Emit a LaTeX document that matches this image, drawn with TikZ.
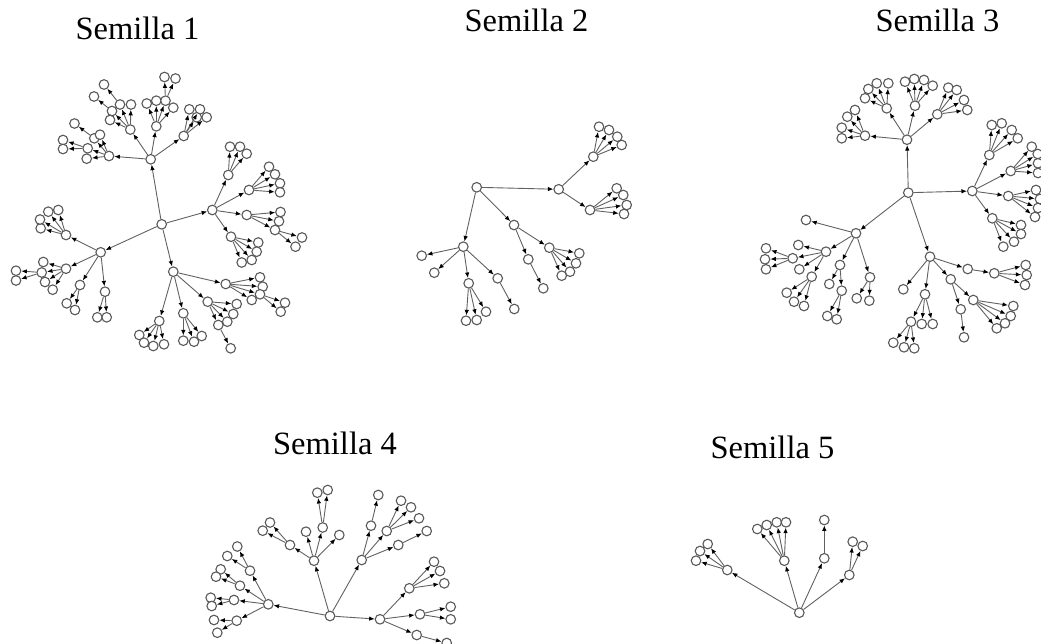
\documentclass[tikz,border=0pt]{standalone}
\usepackage{fontspec}
\setmainfont{Liberation Serif}
\usetikzlibrary{arrows.meta}
\tikzset{
  v/.style={circle,draw=black!65,fill=white,line width=1.1pt,minimum size=9.6pt,inner sep=0pt},
  edge/.style={draw=black!62,line width=0.9pt,-{Latex[length=5.5pt,width=4.5pt,color=black]}},
  lbl/.style={font=\fontsize{32.5}{38}\selectfont,anchor=base,inner sep=0pt}
}
\begin{document}
\begin{tikzpicture}[x=1pt,y=-1pt]
\useasboundingbox (0,0) rectangle (1041,644);
% labels
\node[lbl] (l1) at (137.5,40) {Semilla 1};
\node[lbl] (l2) at (526.5,32) {Semilla 2};
\node[lbl] (l3) at (937.5,32) {Semilla 3};
\node[lbl] (l4) at (335,454) {Semilla 4};
\node[lbl] (l5) at (772.5,458) {Semilla 5};
% ---------- tree 1 ----------
\foreach \n/\x/\y in {ar/161.7/224.3, aA/150.7/159.3, aB/212.3/210, aC/100.7/252.3, aD/173.3/271.7,
 aA1/109/156, aA11/87.7/148.3, aA12/94.3/138.3, aA13/100/134.7, aA14/86.7/158.7, aA111/63/140, aA112/63/149, aA121/74.5/123.5,
 aA2/130.3/129.6, aA21/120/104.5, aA22/131/104.5, aA23/112/111, aA24/110/120, aA211/104/84.5, aA212/94/96.5,
 aA3/156.3/126.3, aA31/146.7/103.5, aA32/156.3/100.7, aA33/165.5/100.7, aA34/173.3/107.7, aA331/164.5/77, aA332/175.5/78.5,
 aA4/183.7/136, aA41/189.3/109.3, aA42/200/109.3, aA43/206.7/117.3, aA44/196.7/117.3,
 aB1/228.3/175, aB2/249/190, aB3/246.7/215, aB4/231/236.7,
 aB11/230/146.7, aB12/240/146.7, aB13/246.7/153.7,
 aB21/269/166.7, aB22/275/174.3, aB23/280/183.3, aB24/280/192.3,
 aB31/280.5/212, aB32/279/221.3, aB33/275/230, aB331/302/237.5, aB332/295.5/246.7,
 aB41/258.3/242.5, aB42/256.7/251.7, aB43/251.7/260, aB44/241.7/262.5,
 aC1/66/235, aC2/66/268.7, aC3/80/285, aC4/105/291.7,
 aC11/40.7/228.3, aC12/40/219.5, aC13/48.3/211.7, aC14/58.3/210,
 aC21/41.7/272.5, aC22/43.3/262, aC23/45/282, aC24/52.7/289.7, aC211/16/270.7, aC212/16/280.5,
 aC31/66.7/303.3, aC32/75/310, aC41/97.3/317.3, aC42/106.7/317.3,
 aD1/159.3/321, aD2/183.3/313.3, aD3/207.7/301.7, aD4/225.7/284,
 aD11/139.3/335, aD12/144/342.7, aD13/153.3/346, aD14/164/344.3,
 aD21/183.3/340.7, aD22/194/341.7, aD23/201.7/336,
 aD31/236.7/304, aD32/233.3/314, aD33/227.3/321.7, aD34/218.3/325, aD341/230.7/348.3,
 aD41/260/277.3, aD42/262.7/286.7, aD43/260/294.3, aD44/251.7/300, aD431/285/302.7, aD432/280.7/311.7}
 {\node[v] (\n) at (\x,\y) {};}
\foreach \p/\c in {ar/aA, ar/aB, ar/aC, ar/aD,
 aA/aA1, aA/aA2, aA/aA3, aA/aA4,
 aA1/aA11, aA1/aA12, aA1/aA13, aA1/aA14, aA11/aA111, aA11/aA112, aA12/aA121,
 aA2/aA21, aA2/aA22, aA2/aA23, aA2/aA24, aA21/aA211, aA23/aA212,
 aA3/aA31, aA3/aA32, aA3/aA33, aA3/aA34, aA33/aA331, aA33/aA332,
 aA4/aA41, aA4/aA42, aA4/aA43, aA4/aA44,
 aB/aB1, aB/aB2, aB/aB3, aB/aB4,
 aB1/aB11, aB1/aB12, aB1/aB13,
 aB2/aB21, aB2/aB22, aB2/aB23, aB2/aB24,
 aB3/aB31, aB3/aB32, aB3/aB33, aB33/aB331, aB33/aB332,
 aB4/aB41, aB4/aB42, aB4/aB43, aB4/aB44,
 aC/aC1, aC/aC2, aC/aC3, aC/aC4,
 aC1/aC11, aC1/aC12, aC1/aC13, aC1/aC14,
 aC2/aC21, aC2/aC22, aC2/aC23, aC2/aC24, aC21/aC211, aC21/aC212,
 aC3/aC31, aC3/aC32, aC4/aC41, aC4/aC42,
 aD/aD1, aD/aD2, aD/aD3, aD/aD4,
 aD1/aD11, aD1/aD12, aD1/aD13, aD1/aD14,
 aD2/aD21, aD2/aD22, aD2/aD23,
 aD3/aD31, aD3/aD32, aD3/aD33, aD3/aD34, aD34/aD341,
 aD4/aD41, aD4/aD42, aD4/aD43, aD4/aD44, aD43/aD431, aD43/aD432}
 {\draw[edge] (\p) -- (\c);}
% ---------- tree 2 ----------
\foreach \n/\x/\y in {br/476.7/187.3, bE/558.7/189.3, bF/463.3/246.7, bG/514/225,
 bE1/593.3/156.7, bE2/590/210,
 bE11/599/126.7, bE12/609/130, bE13/617.3/136.7, bE14/621.7/145,
 bE21/616.7/188.3, bE22/623.3/195, bE23/626.7/205, bE24/624/214,
 bF1/421.7/255.7, bF2/434.3/272.7, bF3/468.7/283.3, bF4/497.7/278.3,
 bF31/466/320.7, bF32/476.7/320, bF33/486/311.7, bF41/514.3/309,
 bG1/528.3/259.3, bG2/549.3/247.7, bG11/543.3/288.3,
 bG21/579.3/253.3, bG22/576/263.3, bG23/570/271.7, bG24/561.7/275.7}
 {\node[v] (\n) at (\x,\y) {};}
\foreach \p/\c in {br/bE, br/bF, br/bG, bE/bE1, bE/bE2,
 bE1/bE11, bE1/bE12, bE1/bE13, bE1/bE14,
 bE2/bE21, bE2/bE22, bE2/bE23, bE2/bE24,
 bF/bF1, bF/bF2, bF/bF3, bF/bF4, bF3/bF31, bF3/bF32, bF3/bF33, bF4/bF41,
 bG/bG1, bG/bG2, bG1/bG11, bG2/bG21, bG2/bG22, bG2/bG23, bG2/bG24}
 {\draw[edge] (\p) -- (\c);}
% ---------- tree 3 ----------
\foreach \n/\x/\y in {cr/908.3/192.7, cH/907/139.7, cI/972.3/191, cJ/856/233.3, cK/930/256.7,
 cH1/865/135.7, cH2/886.7/108.3, cH3/915/105.7, cH4/937.3/114.3,
 cH11/841.7/138.3, cH12/841.7/127.7, cH13/847.3/116.7, cH14/855/110,
 cH21/865/98.3, cH22/868.3/89, cH23/876.7/83.3, cH24/888.3/83.3,
 cH31/905/81.7, cH32/914.3/79, cH33/924/80, cH34/932.7/85.7,
 cH41/948.3/87.7, cH42/956.7/90, cH43/964/100, cH44/967.3/110,
 cI1/989.3/155, cI2/1010.7/171, cI3/1008.3/196, cI4/992.3/218.3,
 cI11/991.7/125, cI12/1001.7/123.3, cI13/1011.7/130, cI14/1017.7/138.3,
 cI21/1031.7/146.7, cI22/1037.7/154, cI23/1038/163.3, cI24/1038/173,
 cI31/1036/190, cI32/1040/199, cI33/1038/208, cI34/1035/217,
 cI41/1021/225, cI42/1021/234, cI43/1014/241.7, cI44/1003.3/246.7,
 cJ0/806/220, cJ1/826/251.7, cJ2/840/265, cJ3/870/277.3,
 cJ11/792.7/258.3, cJ12/798.3/245, cJ13/799.3/269.3, cJ14/811.7/276.7,
 cJ111/766/248.3, cJ112/765/259.3, cJ113/766/269.3,
 cJ141/786.7/292.7, cJ142/794/301.7, cJ143/804/306,
 cJ21/829.3/284, cJ22/841.7/290.7, cJ221/827.3/316, cJ222/836.7/319.3,
 cJ31/856.7/298.3, cJ32/869.3/300.7,
 cK0/903.3/289.3, cK1/925/294.3, cK2/950.7/279.3, cK3/967.7/269,
 cK11/911/321.7, cK12/921.7/324, cK13/932.7/324,
 cK111/893.3/342.7, cK112/904/347.3, cK113/914.3/348.3,
 cK21/960.7/309.3, cK22/973.3/300, cK211/964/337.3,
 cK221/1013.3/306, cK222/1010.7/316, cK223/1005/323.3, cK224/996.7/328.3,
 cK31/994.3/273.3, cK311/1025.7/265, cK312/1026.7/275, cK313/1025/285}
 {\node[v] (\n) at (\x,\y) {};}
\foreach \p/\c in {cr/cH, cr/cI, cr/cJ, cr/cK,
 cH/cH1, cH/cH2, cH/cH3, cH/cH4,
 cH1/cH11, cH1/cH12, cH1/cH13, cH1/cH14,
 cH2/cH21, cH2/cH22, cH2/cH23, cH2/cH24,
 cH3/cH31, cH3/cH32, cH3/cH33, cH3/cH34,
 cH4/cH41, cH4/cH42, cH4/cH43, cH4/cH44,
 cI/cI1, cI/cI2, cI/cI3, cI/cI4,
 cI1/cI11, cI1/cI12, cI1/cI13, cI1/cI14,
 cI2/cI21, cI2/cI22, cI2/cI23, cI2/cI24,
 cI3/cI31, cI3/cI32, cI3/cI33, cI3/cI34,
 cI4/cI41, cI4/cI42, cI4/cI43, cI4/cI44,
 cJ/cJ0, cJ/cJ1, cJ/cJ2, cJ/cJ3,
 cJ1/cJ11, cJ1/cJ12, cJ1/cJ13, cJ1/cJ14,
 cJ11/cJ111, cJ11/cJ112, cJ11/cJ113,
 cJ14/cJ141, cJ14/cJ142, cJ14/cJ143,
 cJ2/cJ21, cJ2/cJ22, cJ22/cJ221, cJ22/cJ222,
 cJ3/cJ31, cJ3/cJ32,
 cK/cK0, cK/cK1, cK/cK2, cK/cK3,
 cK1/cK11, cK1/cK12, cK1/cK13, cK11/cK111, cK11/cK112, cK11/cK113,
 cK2/cK21, cK2/cK22, cK21/cK211,
 cK22/cK221, cK22/cK222, cK22/cK223, cK22/cK224,
 cK3/cK31, cK31/cK311, cK31/cK312, cK31/cK313}
 {\draw[edge] (\p) -- (\c);}
% ---------- tree 4 ----------
\foreach \n/\x/\y in {dr/330/616, dL/268.3/604.3, dM/314/560.7, dN/361.7/560, dO/380/619.3,
 dL1/250/570.7, dL2/240/585.7, dL3/234/600, dL4/236.7/620.7,
 dL11/237.3/546.5, dL12/227.3/556, dL21/220.7/569.3, dL22/216/576.7,
 dL31/210.7/597.7, dL32/211.7/606, dL41/214/620, dL42/217.3/632.7,
 dM1/290/545, dM2/306/531.7, dM3/322.7/527.5, dM4/339.3/535,
 dM11/270/522.5, dM12/262.7/530.7, dM31/317.3/492.7, dM32/327.7/490,
 dN1/371/525.7, dN2/386.7/531, dN3/398.3/545, dN11/378.3/495,
 dN21/401/500.7, dN22/411/507.3, dN23/419/518.3, dN31/426.7/531,
 dO1/409.3/588.3, dO2/420/614.3, dO3/416.7/635,
 dO11/434/561.7, dO12/440/571, dO13/444.3/583.3,
 dO21/450.7/606.7, dO22/450.7/619.3, dO31/446.7/643}
 {\node[v] (\n) at (\x,\y) {};}
\foreach \p/\c in {dr/dL, dr/dM, dr/dN, dr/dO,
 dL/dL1, dL/dL2, dL/dL3, dL/dL4,
 dL1/dL11, dL1/dL12, dL2/dL21, dL2/dL22, dL3/dL31, dL3/dL32, dL4/dL41, dL4/dL42,
 dM/dM1, dM/dM2, dM/dM3, dM/dM4, dM1/dM11, dM1/dM12, dM3/dM31, dM3/dM32,
 dN/dN1, dN/dN2, dN/dN3, dN1/dN11, dN2/dN21, dN2/dN22, dN2/dN23, dN3/dN31,
 dO/dO1, dO/dO2, dO/dO3, dO1/dO11, dO1/dO12, dO1/dO13, dO2/dO21, dO2/dO22, dO3/dO31}
 {\draw[edge] (\p) -- (\c);}
% ---------- tree 5 ----------
\foreach \n/\x/\y in {er/799.3/612.7, eP/727.3/570, eQ/784.3/560.7, eS/824.3/558.3, eT/849.3/575,
 eP1/696/560.7, eP2/700/551, eP3/707.7/544,
 eQ1/757.3/529, eQ2/766.7/525, eQ3/776.7/522.3, eQ4/786/522.3,
 eS1/824.3/520, eT1/852.7/541.7, eT2/862.7/546}
 {\node[v] (\n) at (\x,\y) {};}
\foreach \p/\c in {er/eP, er/eQ, er/eS, er/eT,
 eP/eP1, eP/eP2, eP/eP3,
 eQ/eQ1, eQ/eQ2, eQ/eQ3, eQ/eQ4,
 eS/eS1, eT/eT1, eT/eT2}
 {\draw[edge] (\p) -- (\c);}
\end{tikzpicture}
\end{document}
